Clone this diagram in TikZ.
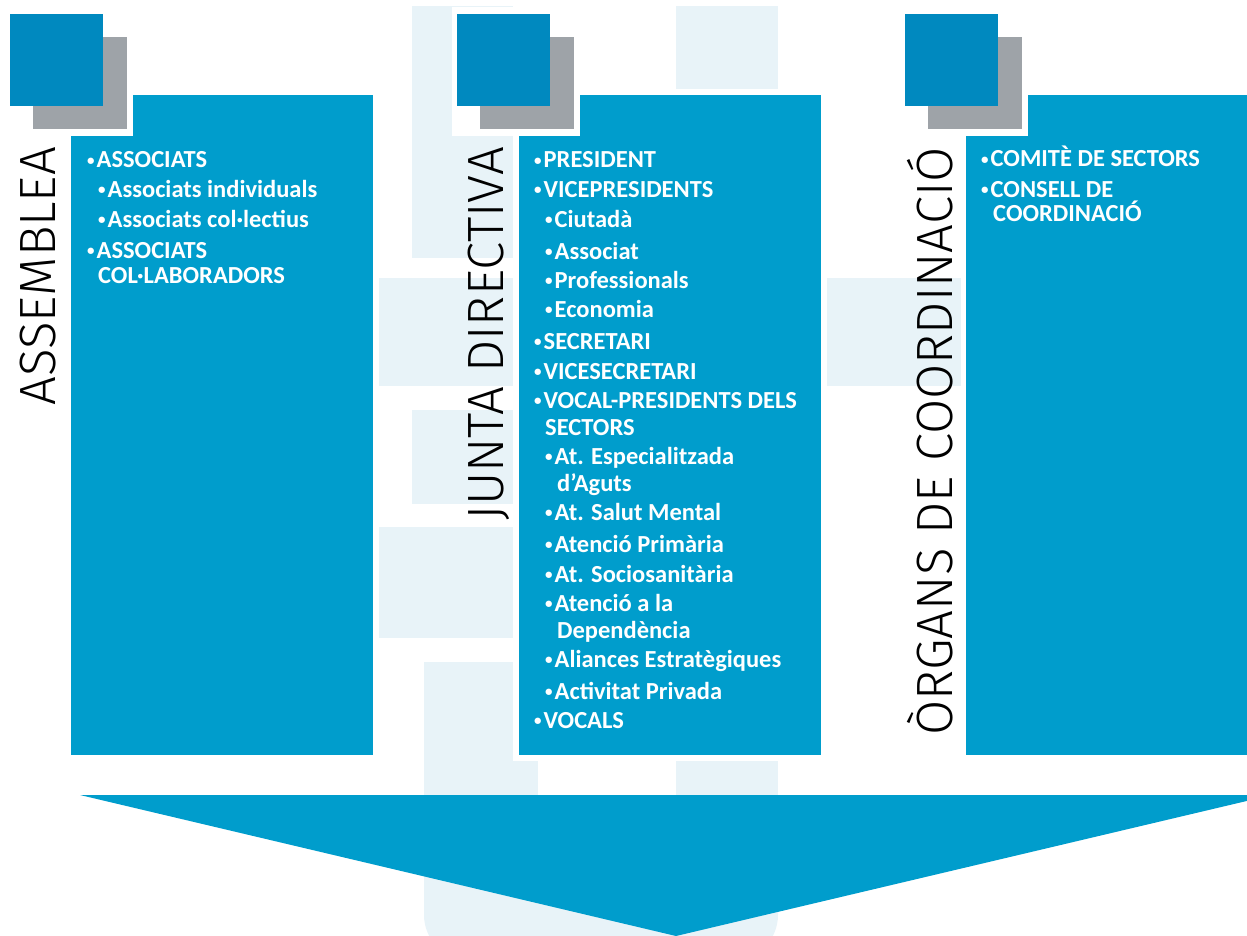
\documentclass[tikz,border=0pt]{standalone}
\usepackage{fontspec}
\setmainfont{Carlito}
\newfontfamily\titlefont{Fira Sans Light}

\definecolor{colblue}{RGB}{0,157,204}
\definecolor{sqblue}{RGB}{0,137,191}
\definecolor{sqgray}{RGB}{158,163,168}
\definecolor{bglight}{RGB}{232,243,248}

\newcommand{\bul}{\raisebox{2.8pt}{\fontsize{15}{15}\selectfont•}\kern2pt}

\tikzset{
  bgbox/.style={fill=bglight},
  colbox/.style={fill=colblue},
  item/.style={anchor=base west, inner sep=0pt, text=white,
    font=\bfseries\fontsize{24.5}{28}\selectfont},
  title/.style={rotate=90, anchor=base east, inner sep=0pt,
    font=\titlefont\fontsize{51}{60}\selectfont},
}

\begin{document}
\begin{tikzpicture}[x=1pt,y=-1pt]
  \useasboundingbox (0,0) rectangle (1247,936);
  \clip (0,0) rectangle (1247,936);

  % watermark in the background
  \fill[bgbox] (412,6) rectangle (513,258);
  \fill[bgbox] (676,6) rectangle (778,89);
  \fill[bgbox] (379,278) rectangle (513,386);
  \fill[bgbox] (827,278) rectangle (961,386);
  \fill[bgbox] (412,410) rectangle (513,504);
  \fill[bgbox] (379,527) rectangle (513,638);
  \fill[bgbox] (424,662) rectangle (513,760);
  \fill[bgbox] (424,758) rectangle (538,860);
  \fill[bgbox] (676,760) rectangle (778,860);
  \fill[bgbox, rounded corners=45pt] (424,800) rectangle (778,960);

  % columns
  \fill[colbox] (71,95) rectangle (373,755);
  \fill[white] (513,89) rectangle (827,761);
  \fill[colbox] (519,95) rectangle (821,755);
  \fill[colbox] (966,95) rectangle (1247,755);

  % squares
  \foreach \x in {10,457,905} {
    \fill[white] (\x-5,7) rectangle (\x+123,136);
    \fill[sqgray] (\x+23,37) rectangle (\x+117,129);
    \fill[sqblue] (\x,14) rectangle (\x+93,106);
  }

  % arrow
  \fill[colbox] (80,795) -- (1272,795) -- (676,936) -- cycle;

  \node[title] (asm) at (55,147) {ASSEMBLEA};
  \node[title] (jd) at (503,147) {JUNTA DIRECTIVA};
  \node[title] (oc) at (952,147) {ÒRGANS DE COORDINACIÓ};

  \foreach \x/\y/\t [count=\i] in {87/168/\bul ASSOCIATS,
      98/197/\bul Associats individuals, 98/227/\bul Associats col·lectius,
      87/258/\bul ASSOCIATS, 98/283/COL·LABORADORS}
    \node[item] (asm\i) at (\x,\y) {\t};

  \foreach \x/\y/\t [count=\i] in {534/168/\bul PRESIDENT,
      534/197/\bul VICEPRESIDENTS, 545/227/\bul Ciutadà, 545/259/\bul Associat,
      545/288/\bul Professionals, 545/317/\bul Economia, 534/349/\bul SECRETARI,
      534/379/\bul VICESECRETARI, 534/408/\bul VOCAL-PRESIDENTS DELS,
      545/435/SECTORS, 545/464/\bul At. Especialitzada, 557/491/d’Aguts,
      545/520/\bul At. Salut Mental, 545/552/\bul Atenció Primària,
      545/582/\bul At. Sociosanitària, 545/611/\bul Atenció a la,
      557/638/Dependència, 545/667/\bul Aliances Estratègiques,
      545/699/\bul Activitat Privada, 534/728/\bul VOCALS}
    \node[item] (jd\i) at (\x,\y) {\t};

  \foreach \x/\y/\t [count=\i] in {981/167/\bul COMITÈ DE SECTORS,
      981/197/\bul CONSELL DE, 993/222/COORDINACIÓ}
    \node[item] (oc\i) at (\x,\y) {\t};
\end{tikzpicture}
\end{document}
